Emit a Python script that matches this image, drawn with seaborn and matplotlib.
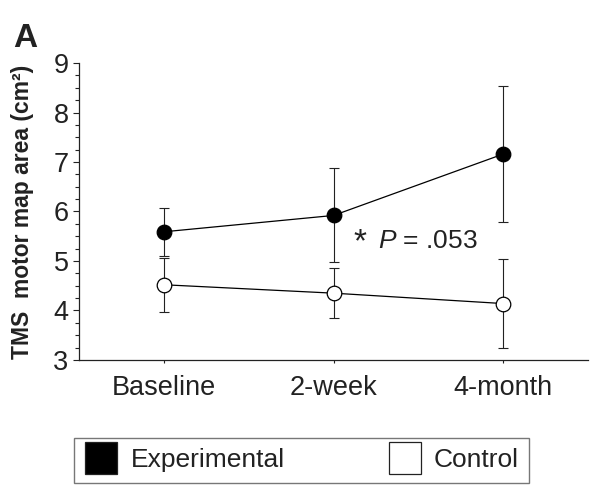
import numpy as np
import pandas as pd
import matplotlib
matplotlib.use("Agg")
import matplotlib.pyplot as plt
from matplotlib.lines import Line2D
from matplotlib.ticker import MultipleLocator
import seaborn as sns

sns.set_style("ticks")
plt.rcParams["font.family"] = ["Liberation Sans", "DejaVu Sans"]
plt.rcParams["mathtext.fontset"] = "custom"
plt.rcParams["mathtext.rm"] = "Liberation Sans"
plt.rcParams["mathtext.it"] = "Liberation Sans:italic"

# values
timepoints = ["Baseline", "2-week", "4-month"]
exp_mean = [5.59, 5.92, 7.16]
exp_err = [0.49, 0.95, 1.38]
ctrl_mean = [4.52, 4.35, 4.14]
ctrl_err = [0.55, 0.51, 0.90]
groups = ["Experimental", "Control"]

df = pd.DataFrame({
    "timepoint": timepoints * 2,
    "area": exp_mean + ctrl_mean,
    "err": exp_err + ctrl_err,
    "group": [groups[0]] * 3 + [groups[1]] * 3,
})

dark = "#222222"
fig = plt.figure(figsize=(6, 4.93), dpi=100)
ax = fig.add_axes([0.1317, 0.2698, 0.8483, 0.6024])

face = {"Experimental": "black", "Control": "white"}
for g in groups:
    sub = df[df["group"] == g]
    ax.errorbar(sub["timepoint"], sub["area"], yerr=sub["err"], fmt="none",
                ecolor=dark, elinewidth=0.8, capsize=3.5, capthick=0.8, zorder=2)
    sns.lineplot(data=sub, x="timepoint", y="area", ax=ax, sort=False,
                 color="black", linewidth=0.9, marker="o", markersize=10.5,
                 markerfacecolor=face[g], markeredgecolor="black",
                 markeredgewidth=0.9, zorder=3)

ax.set_xlim(-0.5, 2.5)
ax.set_ylim(3, 9)
ax.yaxis.set_major_locator(MultipleLocator(1))
ax.yaxis.set_minor_locator(MultipleLocator(0.25))
sns.despine(ax=ax)
for s in ["left", "bottom"]:
    ax.spines[s].set_color(dark)
    ax.spines[s].set_linewidth(0.9)
ax.tick_params(axis="y", which="major", length=4.5, width=0.8, color=dark,
               labelsize=19.5, labelcolor=dark, pad=3)
ax.tick_params(axis="y", which="minor", length=3, width=0.8, color=dark)
ax.tick_params(axis="x", length=2.5, width=0.8, color=dark,
               labelsize=19.5, labelcolor=dark, pad=8)
ax.set_xlabel("")
ax.set_ylabel("TMS  motor map area (cm²)", fontsize=16.5, fontweight="bold",
              color=dark)
ax.yaxis.set_label_coords(-0.088, 0.5)

ax.text(1.118, 5.20, "*", fontsize=24, color=dark, va="baseline")
ax.text(1.265, 5.26, r"$P$ = .053", fontsize=19, color=dark, va="baseline")

fig.text(0.022, 0.905, "A", fontsize=24, fontweight="bold", color=dark,
         va="baseline")

handles = [Line2D([], [], linestyle="none", marker="s", markersize=23,
                  markerfacecolor=face[g], markeredgecolor=dark,
                  markeredgewidth=0.9) for g in groups]
leg = fig.legend(handles, groups, loc="center",
                 bbox_to_anchor=(301.5 / 600, 0.066),
                 ncol=2, fontsize=19, frameon=True,
                 fancybox=False, handlelength=1.3, handletextpad=0.45,
                 columnspacing=3.9, borderpad=0.4)
leg.get_frame().set_edgecolor("#555555")
leg.get_frame().set_linewidth(1.0)
for t in leg.get_texts():
    t.set_color(dark)

fig.savefig("out.png", dpi=100)
